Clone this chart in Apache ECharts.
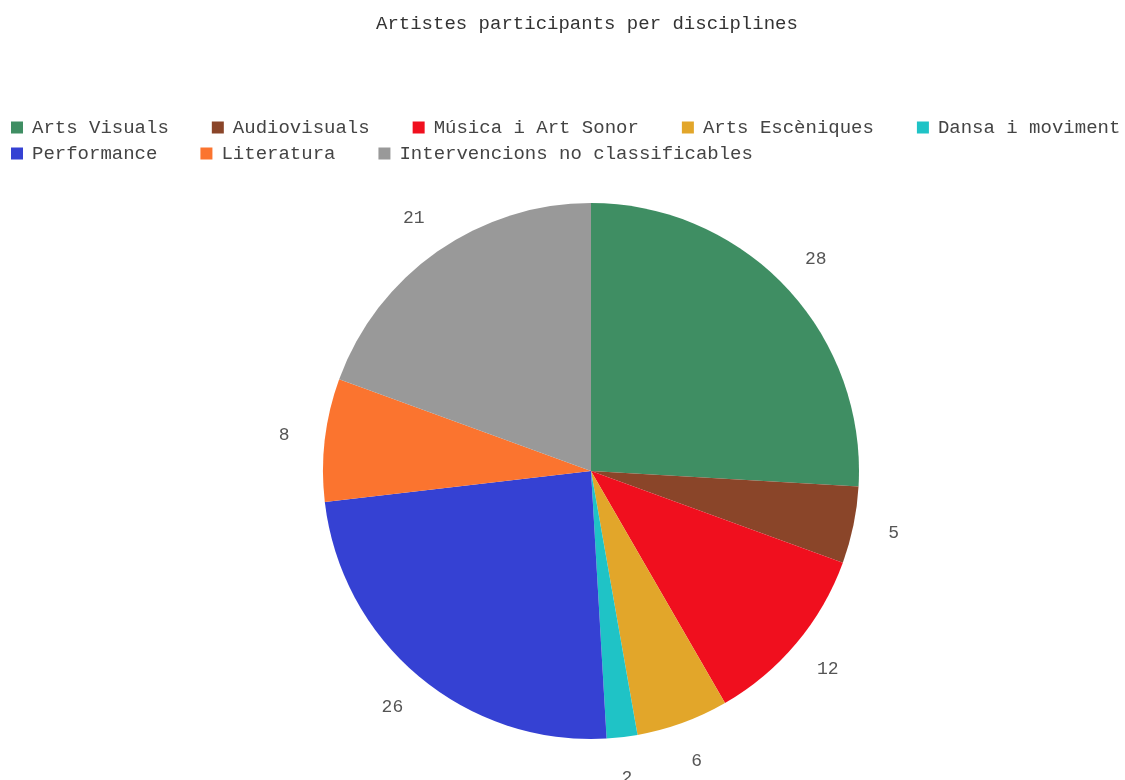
<!DOCTYPE html>
<html>
<head>
<meta charset="utf-8">
<script src="https://cdn.jsdelivr.net/npm/echarts@6/dist/echarts.min.js"></script>
<style>html,body{margin:0;padding:0;background:#fff}#c{width:1125px;height:780px}</style>
</head>
<body>
<div id="c"></div>
<script>
const title = 'Artistes participants per disciplines';
const categories = ['Arts Visuals','Audiovisuals','Música i Art Sonor','Arts Escèniques','Dansa i moviment','Performance','Literatura','Intervencions no classificables'];
const values = [28, 5, 12, 6, 2, 26, 8, 21];
const colors = ['#3f8e63','#8a4529','#f00f1e','#e2a62a','#1fc3c6','#3541d3','#fb742f','#999999'];

const font = '"Liberation Mono", "DejaVu Sans Mono", monospace';
const data = categories.map((n, i) => ({ name: n, value: values[i] }));
const chart = echarts.init(document.getElementById('c'), null, { renderer: 'canvas' });
const legendBase = {
  left: 11, width: 1120, padding: 0, orient: 'horizontal', icon: 'rect', itemWidth: 12, itemHeight: 12, itemGap: 43,
  textStyle: { fontFamily: font, fontSize: 19, color: '#444', padding: [0, 0, 0, 4] },
  selectedMode: false
};
chart.setOption({
  animation: false,
  color: colors,
  title: { text: title, left: 376, top: 14, padding: 0, textStyle: { fontFamily: font, fontSize: 19, fontWeight: 'normal', color: '#333' } },
  legend: [
    Object.assign({}, legendBase, { top: 118, data: categories.slice(0, 5) }),
    Object.assign({}, legendBase, { top: 144, data: categories.slice(5) })
  ],
  series: [
    {
      type: 'pie', center: [591, 471], radius: 268, startAngle: 90, clockwise: true,
      data: data, label: { show: false }, labelLine: { show: false },
      emphasis: { disabled: true }, silent: true
    },
    {
      type: 'pie', center: [591, 471], radius: [268, 344], startAngle: 90, clockwise: true,
      data: data, silent: true, emphasis: { disabled: true },
      itemStyle: { color: 'rgba(0,0,0,0)' },
      label: { show: true, position: 'inside', formatter: '{c}', fontFamily: font, fontSize: 18, color: '#555' },
      labelLine: { show: false }
    }
  ]
});
</script>
</body>
</html>
